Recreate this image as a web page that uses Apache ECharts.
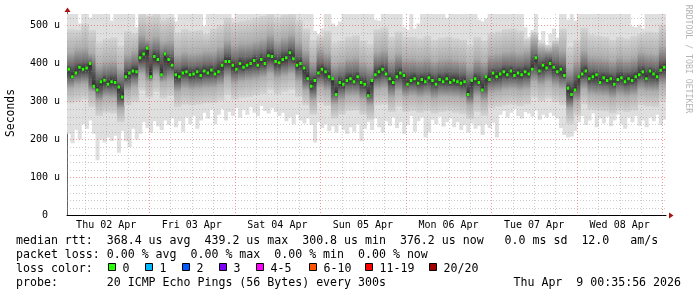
<!DOCTYPE html>
<html><head><meta charset="utf-8">
<script src="https://cdn.jsdelivr.net/npm/echarts@6/dist/echarts.min.js"></script>
<style>html,body{margin:0;padding:0;background:#fff}#c{width:697px;height:297px}</style>
</head><body><div id="c"></div>
<script>
// ---- data (hours are relative to Fri 03 Apr 00:00) ----
const hourStart = -23;
const dayLabels = ['Thu 02 Apr','Fri 03 Apr','Sat 04 Apr','Sun 05 Apr','Mon 06 Apr','Tue 07 Apr','Wed 08 Apr'];
const dayNoonHours = [-12, 12, 36, 60, 84, 108, 132];
const yTickValues = [0, 100, 200, 300, 400, 500];

// hourly median / min / max RTT (microseconds)
const medianRtt = [385,365,375,390,385,388,400,340,330,352,
 356,345,352,350,338,312,365,375,380,378,
 415,425,440,365,418,410,370,425,410,395,
 370,365,375,378,370,372,378,368,380,375,
 383,372,378,395,405,405,395,385,400,390,
 395,400,408,395,410,400,420,418,405,402,
 410,415,428,412,395,400,388,360,340,355,
 375,385,378,365,360,318,350,345,355,360,
 352,365,350,345,315,355,370,378,385,372,
 360,350,365,375,368,345,355,360,348,358,
 352,362,355,345,358,352,360,350,356,352,
 348,352,318,355,360,350,330,365,358,375,
 365,372,378,370,380,368,375,370,378,372,
 385,415,380,395,388,400,390,378,385,368,
 335,318,330,365,372,380,360,365,370,350,
 362,355,360,345,358,362,352,360,355,365,
 370,378,360,380,372,365,382,390];
const minRtt = [215,190,225,200,240,228,250,215,145,200,
 192,205,196,210,165,222,195,180,228,200,
 215,245,230,218,248,235,225,250,238,255,
 232,248,220,258,240,262,228,250,270,255,
 278,240,265,280,250,272,262,283,258,278,
 265,285,270,262,288,275,268,282,272,262,
 270,248,258,240,265,250,242,255,238,192,
 245,230,240,222,235,218,238,225,215,232,
 220,240,195,228,245,225,255,232,218,248,
 236,258,230,245,215,238,262,220,248,258,
 205,218,252,240,260,234,246,255,232,245,
 225,238,218,242,228,236,212,240,230,244,
 205,265,275,258,270,280,262,255,272,268,
 260,276,252,265,258,270,262,255,230,212,
 205,208,222,245,262,238,250,268,232,255,
 242,260,235,250,265,240,228,258,245,262,
 236,250,232,258,248,265,238,252];
const maxRtt = [530,530,530,505,530,530,520,530,530,530,
 530,530,512,530,530,530,530,530,530,495,
 530,530,530,530,530,530,530,530,530,530,
 510,530,530,530,530,530,530,530,498,530,
 530,530,530,530,530,530,518,530,530,530,
 530,530,530,530,530,530,530,530,530,530,
 530,530,530,530,530,530,530,530,530,485,
 478,492,530,530,505,498,510,530,530,530,
 530,530,530,530,530,530,515,512,530,530,
 530,530,530,530,495,488,530,492,505,530,
 530,530,530,530,530,530,520,530,530,530,
 530,530,530,530,530,515,510,518,530,530,
 530,530,530,530,530,530,530,530,495,470,
 488,530,462,485,450,478,492,468,530,530,
 515,530,512,530,530,530,530,530,530,530,
 530,530,530,530,530,530,530,530,498,495,
 502,492,530,530,530,530,530,530];

// two-hourly smoke percentiles (microseconds)
const p10 = [295,300,305,285,262,270,268,245,290,298,
 328,310,325,308,315,285,292,290,292,295,
 296,302,318,305,310,312,316,320,330,318,
 325,330,312,290,265,295,288,255,265,275,
 276,265,252,290,292,272,286,272,275,270,
 274,268,272,274,270,266,254,272,262,282,
 286,290,292,288,292,310,300,308,298,290,
 240,262,292,278,276,274,268,276,272,276,
 290,286,284,300];
const p25 = [335,342,345,325,300,310,308,280,328,338,
 372,352,368,350,356,325,334,330,332,335,
 336,342,360,346,352,355,358,362,372,360,
 366,372,352,328,302,336,328,292,302,314,
 315,304,288,330,334,310,326,312,315,310,
 314,306,312,312,310,306,290,312,300,322,
 325,330,332,328,332,352,342,350,340,332,
 280,300,332,318,316,314,308,316,312,316,
 330,326,325,342];
const p40 = [358,365,368,345,322,334,333,300,352,362,
 398,378,392,372,382,348,360,354,356,360,
 360,366,386,372,376,380,382,386,398,384,
 392,398,378,350,326,360,352,315,328,340,
 340,328,310,355,360,336,352,336,340,335,
 340,332,338,337,336,332,312,338,325,348,
 350,356,356,354,358,378,368,376,366,358,
 302,325,358,344,342,340,334,342,338,342,
 356,350,350,368];
const p60 = [395,402,405,392,362,370,372,350,390,398,
 442,426,436,420,424,388,396,392,394,398,
 398,408,426,412,418,418,424,428,442,425,
 434,442,420,398,370,402,394,362,368,378,
 380,368,360,396,400,378,392,378,378,375,
 378,372,376,378,376,372,358,376,370,388,
 390,396,396,394,398,424,410,416,406,398,
 350,370,398,384,382,380,374,382,378,382,
 396,392,390,408];
const p75 = [430,440,442,428,398,405,408,390,425,435,
 478,465,472,458,462,425,432,428,430,435,
 434,445,462,450,455,456,460,466,478,462,
 470,478,458,436,408,440,430,400,405,415,
 418,405,398,432,438,415,428,415,415,412,
 416,408,414,415,412,408,396,414,405,425,
 428,432,434,430,435,462,440,435,444,436,
 390,408,436,420,418,416,410,418,414,418,
 432,428,426,446];
const p90 = [490,488,505,488,455,465,468,448,485,480,
 530,525,530,515,520,482,490,485,488,478,
 492,502,520,508,512,515,520,525,530,520,
 528,530,515,492,462,472,486,455,460,470,
 474,460,452,490,495,470,484,470,470,466,
 472,462,468,470,466,462,450,470,460,480,
 484,490,492,486,465,482,455,448,460,492,
 445,462,494,476,472,470,462,470,466,472,
 478,484,482,502];

const lossLabels = ['0','1','2','3','4-5','6-10','11-19','20/20'];
const lossColors = ['#26ff00','#00b8ff','#0059ff','#7e00ff','#ff00ff','#ff5500','#ff0000','#a10000'];

const statsLine1 = 'median rtt:  368.4 us avg  439.2 us max  300.8 us min  376.2 us now   0.0 ms sd  12.0   am/s';
const statsLine2 = 'packet loss: 0.00 % avg  0.00 % max  0.00 % min  0.00 % now';
const probeLine = 'probe:       20 ICMP Echo Pings (56 Bytes) every 300s';
const stampText = 'Thu Apr  9 00:35:56 2026';

// ---- layout / style ----
const MONO = '"DejaVu Sans Mono", "Liberation Mono", monospace';
const legendFont = '11.6px ' + MONO;
const swatchX = [108, 145, 182, 219, 256, 309, 365, 429];
const smokeShades = ['#d4d4d4', '#adadad', '#6c6c6c', '#2c2c2c'];

const rangeData = minRtt.map((v, i) => [hourStart + i, hourStart + i + 1, v, maxRtt[i]]);
const smokeData = medianRtt.map((m, i) => {
  const j = Math.floor(i / 2);
  return [hourStart + i, hourStart + i + 1, p10[j], p25[j], p40[j], m, p60[j], p75[j], p90[j]];
});
const medianData = medianRtt.map((v, i) => [hourStart + i, hourStart + i + 1, v]);

const gridData = [];
for (let h = -18; h <= 144; h += 6) gridData.push([0, h, h % 24 === 0 ? 1 : 0]);
for (let v = 20; v <= 520; v += 20) gridData.push([1, v, v % 100 === 0 ? 1 : 0]);

function rangeRender(params, api) {
  const a = api.coord([api.value(0), api.value(3)]);
  const b = api.coord([api.value(1), api.value(2)]);
  return { type: 'rect', shape: { x: a[0], y: a[1], width: b[0] - a[0] + 0.5, height: b[1] - a[1] },
    style: { fill: '#dfdfdf' } };
}
function smokeRender(params, api) {
  const med = api.value(5);
  const up = [api.value(6), api.value(7), api.value(8)];
  const dn = [api.value(4), api.value(3), api.value(2)];
  let last = med;
  for (let k = 0; k < 3; k++) { up[k] = Math.max(up[k], last + 4); last = up[k]; }
  last = med;
  for (let k = 0; k < 3; k++) { dn[k] = Math.min(dn[k], last - 4); last = dn[k]; }
  const hi = up[2], lo = dn[2];
  const off = v => Math.max(0, Math.min(1, (hi - v) / (hi - lo)));
  const stops = [
    { offset: 0, color: smokeShades[0] },
    { offset: off(up[1]), color: smokeShades[1] },
    { offset: off(up[0]), color: smokeShades[2] },
    { offset: off(med), color: smokeShades[3] },
    { offset: off(dn[0]), color: smokeShades[2] },
    { offset: off(dn[1]), color: smokeShades[1] },
    { offset: 1, color: smokeShades[0] }
  ];
  const a = api.coord([api.value(0), hi]);
  const b = api.coord([api.value(1), lo]);
  return { type: 'rect', shape: { x: a[0], y: a[1], width: b[0] - a[0] + 0.5, height: b[1] - a[1] },
    style: { fill: new echarts.graphic.LinearGradient(0, 0, 0, 1, stops) } };
}

const chart = echarts.init(document.getElementById('c'), null, { renderer: 'canvas' });
chart.setOption({
  animation: false,
  backgroundColor: '#fff',
  grid: { left: 67, right: 31, top: 14, bottom: 81.5, containLabel: false },
  xAxis: {
    type: 'value', min: hourStart, max: hourStart + 168,
    axisLine: { show: true, onZero: false, lineStyle: { color: '#000', width: 1 } },
    axisTick: { show: false }, splitLine: { show: false },
    axisLabel: {
      customValues: dayNoonHours,
      formatter: v => dayLabels[dayNoonHours.indexOf(Math.round(v))] || '',
      fontFamily: MONO, fontSize: 10, color: '#000', margin: 5
    }
  },
  yAxis: {
    type: 'value', min: 0, max: 530, interval: 100,
    axisLine: { show: true, onZero: false, lineStyle: { color: '#666', width: 1 } },
    axisTick: { show: false }, splitLine: { show: false },
    axisLabel: {
      formatter: v => (v === 0 ? '{z|0}' : (yTickValues.indexOf(v) >= 0 ? v + ' u' : '')),
      fontFamily: MONO, fontSize: 10, color: '#000', margin: 7,
      rich: { z: { fontFamily: MONO, fontSize: 10, color: '#000', padding: [0, 12, 0, 0] } }
    }
  },
  series: [
    { type: 'custom', name: 'range', clip: true, z: 2, silent: true,
      data: rangeData, renderItem: rangeRender },
    { type: 'custom', name: 'smoke', clip: true, z: 2, silent: true,
      data: smokeData, renderItem: smokeRender },
    { type: 'custom', name: 'median', clip: true, z: 3, silent: true,
      data: medianData,
      renderItem: function (params, api) {
        const a = api.coord([api.value(0), api.value(2)]);
        const b = api.coord([api.value(1), api.value(2)]);
        const w = b[0] - a[0];
        return { type: 'rect', shape: { x: a[0] + w * 0.15, y: a[1] - 1.5, width: w * 0.7, height: 3 },
          style: { fill: lossColors[0] } };
      } },
    { type: 'custom', name: 'grid', z: 4, silent: true, data: gridData,
      renderItem: function (params, api) {
        const cs = params.coordSys;
        const kind = api.value(0), val = api.value(1), major = api.value(2);
        const stroke = major ? 'rgba(230,50,50,0.5)' : 'rgba(140,140,140,0.45)';
        if (kind === 0) {
          const x = Math.round(api.coord([val, 0])[0]) + 0.5;
          return { type: 'line', shape: { x1: x, y1: cs.y, x2: x, y2: cs.y + cs.height },
            style: { stroke: stroke, lineWidth: 1, lineDash: [1, 2] } };
        }
        const y = Math.round(api.coord([hourStart, val])[1]) + 0.5;
        return { type: 'line', shape: { x1: cs.x, y1: y, x2: cs.x + cs.width, y2: y },
          style: { stroke: stroke, lineWidth: 1, lineDash: [1, 2] } };
      } },
    { type: 'custom', name: 'arrows', z: 5, silent: true, data: [[0, 0]],
      renderItem: function (params, api) {
        const cs = params.coordSys;
        const x0 = cs.x, y0 = cs.y, xr = cs.x + cs.width, yb = cs.y + cs.height;
        return { type: 'group', children: [
          { type: 'line', shape: { x1: x0 + 0.5, y1: y0 - 3, x2: x0 + 0.5, y2: y0 }, style: { stroke: '#666', lineWidth: 1 } },
          { type: 'polygon', shape: { points: [[x0 + 0.5, y0 - 6.5], [x0 - 2.5, y0 - 2], [x0 + 3.5, y0 - 2]] }, style: { fill: '#a11' } },
          { type: 'polygon', shape: { points: [[xr + 7.5, yb], [xr + 3, yb - 3], [xr + 3, yb + 3]] }, style: { fill: '#a11' } }
        ] };
      } }
  ],
  graphic: { elements: [].concat(
    [
      { type: 'text', x: 11, y: 113, rotation: Math.PI / 2,
        style: { text: 'Seconds', font: '11.4px ' + MONO, fill: '#000', align: 'center', verticalAlign: 'middle', textAlign: 'center', textVerticalAlign: 'middle' } },
      { type: 'text', x: 688.5, y: 59, rotation: -Math.PI / 2,
        style: { text: 'RRDTOOL / TOBI OETIKER', font: '8.2px ' + MONO, fill: '#b4b4b4', align: 'center', verticalAlign: 'middle', textAlign: 'center', textVerticalAlign: 'middle' } },
      { type: 'text', x: 16, y: 241, style: { text: statsLine1, font: legendFont, fill: '#000', verticalAlign: 'middle', textVerticalAlign: 'middle' } },
      { type: 'text', x: 16, y: 255, style: { text: statsLine2, font: legendFont, fill: '#000', verticalAlign: 'middle', textVerticalAlign: 'middle' } },
      { type: 'text', x: 16, y: 269, style: { text: 'loss color:', font: legendFont, fill: '#000', verticalAlign: 'middle', textVerticalAlign: 'middle' } },
      { type: 'text', x: 16, y: 283, style: { text: probeLine, font: legendFont, fill: '#000', verticalAlign: 'middle', textVerticalAlign: 'middle' } },
      { type: 'text', x: 681, y: 283, style: { text: stampText, font: legendFont, fill: '#000', align: 'right', textAlign: 'right', verticalAlign: 'middle', textVerticalAlign: 'middle' } }
    ],
    lossLabels.map((lab, k) => ({ type: 'rect', shape: { x: swatchX[k] + 0.5, y: 263.5, width: 7, height: 7 },
      style: { fill: lossColors[k], stroke: '#000', lineWidth: 1 } })),
    lossLabels.map((lab, k) => ({ type: 'text', x: swatchX[k] + 14.5, y: 269,
      style: { text: lab, font: legendFont, fill: '#000', verticalAlign: 'middle', textVerticalAlign: 'middle' } }))
  ) }
});
</script>
</body></html>
